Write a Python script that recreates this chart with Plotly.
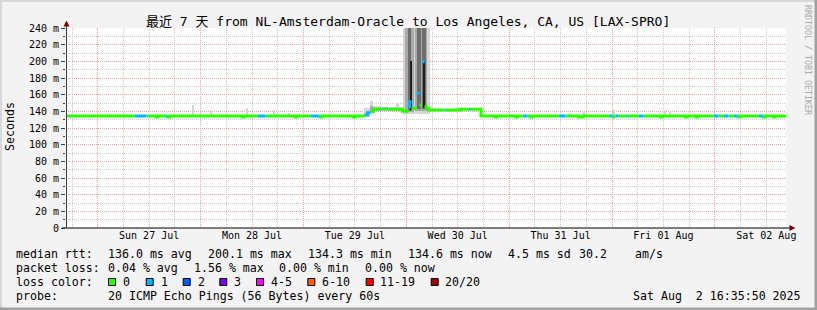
import pandas as pd
import plotly.graph_objects as go

START = "2025-07-26 16:35:50"
END = "2025-08-02 16:35:50"

# ---------------- data ----------------
# median rtt runs: start time of run, median (ms), lost pings (of 20)
med_time = [
    "2025-07-26 16:36", "2025-07-27 08:34", "2025-07-27 11:22", "2025-07-27 13:42",
    "2025-07-27 14:03", "2025-07-27 15:48", "2025-07-27 16:16", "2025-07-27 16:30",
    "2025-07-27 16:51", "2025-07-28 09:47", "2025-07-28 10:07", "2025-07-28 13:17",
    "2025-07-28 15:09", "2025-07-28 22:09", "2025-07-28 22:30", "2025-07-29 01:38",
    "2025-07-29 03:44", "2025-07-29 03:58", "2025-07-29 04:19", "2025-07-29 11:40",
    "2025-07-29 12:01", "2025-07-29 14:13", "2025-07-29 14:56", "2025-07-29 15:38",
    "2025-07-29 16:20", "2025-07-29 18:00", "2025-07-29 18:14", "2025-07-29 19:32",
    "2025-07-29 19:46", "2025-07-29 23:06", "2025-07-30 00:31", "2025-07-30 00:45",
    "2025-07-30 01:13", "2025-07-30 02:23", "2025-07-30 03:05", "2025-07-30 03:33",
    "2025-07-30 04:15", "2025-07-30 04:43", "2025-07-30 05:11", "2025-07-30 08:41",
    "2025-07-30 08:55", "2025-07-30 12:39", "2025-07-30 14:31", "2025-07-30 14:52",
    "2025-07-30 17:26", "2025-07-30 20:49", "2025-07-30 21:10", "2025-07-31 01:30",
    "2025-07-31 01:51", "2025-07-31 03:08", "2025-07-31 04:18", "2025-07-31 05:00",
    "2025-07-31 05:21", "2025-07-31 11:32", "2025-07-31 13:10", "2025-07-31 16:12",
    "2025-07-31 17:08", "2025-07-31 23:21", "2025-08-01 00:07", "2025-08-01 00:28",
    "2025-08-01 00:49", "2025-08-01 01:31", "2025-08-01 03:09", "2025-08-01 03:30",
    "2025-08-01 06:11", "2025-08-01 07:21", "2025-08-01 11:19", "2025-08-01 11:40",
    "2025-08-01 17:09", "2025-08-01 17:30", "2025-08-01 19:43", "2025-08-01 20:04",
    "2025-08-01 23:41", "2025-08-02 00:52", "2025-08-02 02:02", "2025-08-02 03:12",
    "2025-08-02 04:22", "2025-08-02 05:18", "2025-08-02 05:32", "2025-08-02 05:53",
    "2025-08-02 10:12", "2025-08-02 11:08", "2025-08-02 11:22", "2025-08-02 11:43",
    "2025-08-02 13:42", "2025-08-02 14:03",
]
med_ms = [
    134.4, 134.4, 134.4, 133.2, 134.4, 134.4, 134.4, 133.2,
    134.4, 133.2, 134.4, 134.4, 134.4, 133.2, 134.4, 134.4,
    134.4, 133.2, 134.4, 133.2, 134.4, 135.6, 138.4, 139.8,
    142.8, 142.8, 142.8, 142.8, 142.4, 140.0, 145.6, 151.6,
    143.6, 161.6, 147.6, 199.6, 145.6, 143.0, 141.6, 141.6,
    141.6, 142.6, 142.6, 142.6, 134.4, 133.2, 134.4, 133.2,
    134.4, 134.4, 134.4, 133.2, 134.4, 134.4, 134.4, 133.2,
    134.4, 134.4, 133.2, 134.4, 134.4, 134.4, 134.4, 134.4,
    134.4, 134.4, 133.2, 134.4, 133.2, 134.4, 133.2, 134.4,
    134.4, 134.4, 134.4, 134.4, 134.4, 134.4, 133.2, 134.4,
    134.4, 134.4, 133.2, 134.4, 133.2, 134.4,
]
med_loss = [
    0, 1, 0, 0, 0, 1, 0, 0,
    0, 0, 0, 1, 0, 0, 0, 1,
    0, 0, 0, 0, 0, 1, 1, 0,
    0, 1, 0, 1, 0, 0, 1, 1,
    0, 1, 0, 1, 0, 0, 0, 1,
    0, 0, 1, 0, 0, 0, 0, 0,
    0, 1, 0, 0, 0, 1, 0, 0,
    0, 1, 0, 0, 1, 0, 1, 0,
    1, 0, 0, 0, 0, 0, 0, 0,
    1, 0, 1, 0, 1, 0, 0, 0,
    1, 0, 0, 0, 0, 0,
]

# smoke (spread of the 20 pings): start, end, low (ms), high (ms), shade level
smoke_start = [
    "2025-07-27 22:06", "2025-07-28 02:05", "2025-07-28 10:29", "2025-07-28 16:47",
    "2025-07-28 20:17", "2025-07-31 13:52", "2025-07-31 17:08", "2025-08-01 00:07",
    "2025-08-01 12:01", "2025-08-01 13:11",
    "2025-07-29 14:13", "2025-07-29 15:38", "2025-07-29 16:20", "2025-07-29 18:00",
    "2025-07-29 21:30", "2025-07-29 22:20", "2025-07-29 15:38", "2025-07-29 16:20",
    "2025-07-29 23:20",
    "2025-07-29 23:48", "2025-07-30 02:02", "2025-07-30 03:35",
    "2025-07-30 00:17", "2025-07-30 02:23", "2025-07-30 03:40",
    "2025-07-30 00:52", "2025-07-30 03:47", "2025-07-30 17:12",
]
smoke_end = [
    "2025-07-27 22:34", "2025-07-28 02:33", "2025-07-28 10:57", "2025-07-28 17:15",
    "2025-07-28 20:45", "2025-07-31 14:20", "2025-07-31 17:36", "2025-08-01 00:35",
    "2025-08-01 12:29", "2025-08-01 13:39",
    "2025-07-29 15:38", "2025-07-29 16:20", "2025-07-29 18:00", "2025-07-29 21:30",
    "2025-07-29 22:20", "2025-07-29 23:20", "2025-07-29 16:20", "2025-07-29 18:00",
    "2025-07-30 05:25",
    "2025-07-30 01:41", "2025-07-30 03:35", "2025-07-30 04:45",
    "2025-07-30 01:00", "2025-07-30 03:20", "2025-07-30 04:30",
    "2025-07-30 01:06", "2025-07-30 04:22", "2025-07-30 17:28",
]
smoke_lo = [
    134.0, 134.0, 134.0, 134.0, 134.0, 134.0, 134.0, 134.0,
    134.0, 134.0,
    133.0, 137.0, 140.0, 140.0, 140.0, 139.0, 139.0, 141.0,
    137.0,
    139.0, 141.0, 141.0,
    141.0, 143.0, 143.0,
    142.0, 144.0, 134.0,
]
smoke_hi = [
    147.6, 141.6, 144.0, 141.6, 138.0, 138.0, 139.0, 141.6,
    141.6, 139.0,
    144.0, 152.4, 146.0, 145.0, 150.0, 145.0, 146.0, 144.0,
    245.0,
    245.0, 245.0, 245.0,
    245.0, 245.0, 245.0,
    200.0, 200.0, 142.5,
]
smoke_shade = [
    0, 0, 0, 0, 0, 0, 0, 0,
    0, 0,
    0, 0, 0, 0, 0, 0, 1, 1,
    0,
    1, 1, 1,
    2, 2, 2,
    3, 3, 3,
]
shade_colors = ["#d6d6d6", "#a9a9a9", "#6e6e6e", "#1e1e1e"]

loss_labels = ["0", "1", "2", "3", "4-5", "6-10", "11-19", "20/20"]
loss_upper = [0, 1, 2, 3, 5, 10, 19, 20]
loss_colors = ["#26ff00", "#00b8ff", "#0059ff", "#7e00ff",
               "#ff00ff", "#ff5e00", "#ff0000", "#a10000"]

y_ticks = [0, 20, 40, 60, 80, 100, 120, 140, 160, 180, 200, 220, 240]
y_ticktext = ["0", "20 m", "40 m", "60 m", "80 m", "100 m", "120 m", "140 m",
              "160 m", "180 m", "200 m", "220 m", "240 m"]
y_minor = [10, 30, 50, 70, 90, 110, 130, 150, 170, 190, 210, 230]

title_text = "最近 7 天 from NL-Amsterdam-Oracle to Los Angeles, CA, US [LAX-SPRO]"
rtt_stats = ["136.0 ms avg", "200.1 ms max", "134.3 ms min", "134.6 ms now",
             "4.5 ms sd", "30.2", "am/s"]
loss_stats = ["0.04 % avg", "1.56 % max", "0.00 % min", "0.00 % now"]
probe_text = "20 ICMP Echo Pings (56 Bytes) every 60s"
stamp_text = "Sat Aug  2 16:35:50 2025"

# ---------------- figure ----------------
MONO = "DejaVu Sans Mono, Noto Sans CJK SC, monospace"
L, W, T, H = 66, 720, 28, 200


def px(x):
    return (x - L) / W


def py(y):
    return (T + H - y) / H


fig = go.Figure()

# smoke
s0 = pd.to_datetime(smoke_start, format="mixed")
s1 = pd.to_datetime(smoke_end, format="mixed")
for lvl, col in enumerate(shade_colors):
    xs, ys, bs, ws = [], [], [], []
    for a, b, lo, hi, sh in zip(s0, s1, smoke_lo, smoke_hi, smoke_shade):
        if sh != lvl:
            continue
        xs.append(a + (b - a) / 2)
        ws.append((b - a).total_seconds() * 1000)
        bs.append(lo)
        ys.append(hi - lo)
    fig.add_trace(go.Bar(x=xs, y=ys, base=bs, width=ws, marker_color=col,
                         marker_line_width=0, hoverinfo="skip"))


def loss_index(n):
    for i, u in enumerate(loss_upper):
        if n <= u:
            return i
    return len(loss_upper) - 1


# median line coloured by loss
tt = list(pd.to_datetime(med_time + [END], format="mixed"))
for li, col in enumerate(loss_colors):
    xs, ys = [], []
    prev = False
    for i, v in enumerate(med_ms):
        if loss_index(med_loss[i]) == li:
            if not prev and xs:
                xs.append(None)
                ys.append(None)
            xs += [tt[i], tt[i + 1]]
            ys += [v, v]
            prev = True
        else:
            prev = False
    if xs:
        fig.add_trace(go.Scatter(x=xs, y=ys, mode="lines",
                                 line=dict(color=col, width=3),
                                 hoverinfo="skip", connectgaps=False))

fig.update_layout(
    width=817, height=310, autosize=False,
    margin=dict(l=L, r=817 - L - W, t=T, b=310 - T - H, pad=0),
    paper_bgcolor="#f3f3f3", plot_bgcolor="#ffffff",
    showlegend=False, barmode="overlay", bargap=0,
    font=dict(family=MONO, size=10, color="#000000"),
)
fig.update_xaxes(
    type="date", range=[START, END], tickmode="linear", tick0="2025-07-27",
    dtick=86400000, ticklabelmode="period", tickformat="%a %d %b",
    showgrid=True, gridcolor="#f0a0a0", griddash="1px,1px", gridwidth=1,
    ticks="", showline=False, zeroline=False,
    tickfont=dict(family=MONO, size=10, color="#000000"),
    minor=dict(tick0="2025-07-27", dtick=21600000, showgrid=True,
               gridcolor="#cccccc", griddash="1px,1px", gridwidth=1),
)
fig.update_yaxes(
    range=[0, 240], tickmode="array", tickvals=y_ticks, ticktext=y_ticktext,
    showgrid=True, gridcolor="#f0a0a0", griddash="1px,1px", gridwidth=1,
    ticks="outside", ticklen=4, tickcolor="#444444", tickwidth=1,
    zeroline=False, showline=False,
    tickfont=dict(family=MONO, size=10, color="#000000"),
    minor=dict(tickmode="array", tickvals=y_minor, showgrid=True,
               gridcolor="#cccccc", griddash="1px,1px", gridwidth=1,
               ticks="outside", ticklen=2, tickcolor="#444444"),
)

shapes = []
# axis lines and arrows
shapes.append(dict(type="line", xref="paper", yref="paper", x0=px(66.5), x1=px(66.5),
                   y0=py(228), y1=py(25), line=dict(color="#404040", width=1)))
shapes.append(dict(type="line", xref="paper", yref="paper", x0=px(62), x1=px(790),
                   y0=py(228), y1=py(228), line=dict(color="#000000", width=1)))
shapes.append(dict(type="path", xref="paper", yref="paper",
                   path=f"M {px(66.5)},{py(20.5)} L {px(63.5)},{py(26.5)} L {px(69.5)},{py(26.5)} Z",
                   fillcolor="#800000", line=dict(width=0)))
shapes.append(dict(type="path", xref="paper", yref="paper",
                   path=f"M {px(795.5)},{py(228)} L {px(789.5)},{py(225)} L {px(789.5)},{py(231)} Z",
                   fillcolor="#800000", line=dict(width=0)))
# frame shading
shapes.append(dict(type="rect", xref="paper", yref="paper", x0=px(0), x1=px(817),
                   y0=py(0), y1=py(2), fillcolor="#d8d8d8", line=dict(width=0), layer="below"))
shapes.append(dict(type="rect", xref="paper", yref="paper", x0=px(0), x1=px(2),
                   y0=py(0), y1=py(310), fillcolor="#d8d8d8", line=dict(width=0), layer="below"))
shapes.append(dict(type="rect", xref="paper", yref="paper", x0=px(814.5), x1=px(817),
                   y0=py(0), y1=py(310), fillcolor="#a0a0a0", line=dict(width=0), layer="below"))
shapes.append(dict(type="rect", xref="paper", yref="paper", x0=px(0), x1=px(817),
                   y0=py(307.5), y1=py(310), fillcolor="#a0a0a0", line=dict(width=0), layer="below"))

# loss colour swatches
sq_x = [108, 145.7, 182.7, 219.3, 256, 307.3, 365.7, 430.7]
lab_x = [123.3, 160.7, 197.7, 234.3, 271, 321.7, 380, 445]
for x0, col in zip(sq_x, loss_colors):
    shapes.append(dict(type="rect", xref="paper", yref="paper", x0=px(x0 + 0.5), x1=px(x0 + 7.5),
                       y0=py(278.5), y1=py(285.5), fillcolor=col,
                       line=dict(color="#000000", width=1)))
fig.update_layout(shapes=shapes)

ann = []


def text(x, y, s, size=11.6, color="#000000", xanchor="left", angle=0):
    ann.append(dict(text=s, x=px(x), y=py(y), xref="paper", yref="paper",
                    xanchor=xanchor, yanchor="middle", showarrow=False,
                    textangle=angle, borderpad=0, borderwidth=0,
                    font=dict(family=MONO, size=size, color=color)))


text(407.5, 21, title_text, size=13, xanchor="center")
text(10, 127, "Seconds", xanchor="center", angle=-90)
text(808, 60, "RRDTOOL / TOBI OETIKER", size=8.3, color="#aaaaaa",
     xanchor="center", angle=90)

text(16, 254.3, "median rtt:")
for x, s in zip([107.8, 207.8, 307.8, 407.8, 507.8, 579.3, 634.6], rtt_stats):
    text(x, 254.3, s)
text(16, 268.3, "packet loss:")
for x, s in zip([107.8, 193.6, 279.3, 365.0], loss_stats):
    text(x, 268.3, s)
text(16, 282.3, "loss color:")
for x, s in zip(lab_x, loss_labels):
    text(x, 282.3, s)
text(16, 296, "probe:")
text(107.8, 296, probe_text)
text(800.5, 296, stamp_text, xanchor="right")

fig.update_layout(annotations=ann)
fig.write_html("out.html")
